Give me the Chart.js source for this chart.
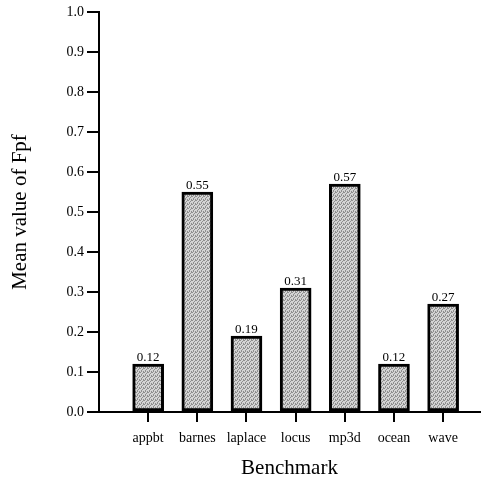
<!DOCTYPE html>
<html lang="en">

<head>
    <meta charset="UTF-8">
    <title>Mean value of Fpf</title>
    <style>
        body {
            margin: 0;
            padding: 0;
            background: #fff;
        }

        canvas {
            display: block;
        }
    </style>
</head>

<body>
    <canvas id="fpfChart" width="481" height="481"></canvas>

    <script src="https://cdn.jsdelivr.net/npm/chart.js"></script>
    <script>
        // Data
        const benchmarks = ['appbt', 'barnes', 'laplace', 'locus', 'mp3d', 'ocean', 'wave'];
        const fpfValues = [0.12, 0.55, 0.19, 0.31, 0.57, 0.12, 0.27];
        const yTicks = [0.0, 0.1, 0.2, 0.3, 0.4, 0.5, 0.6, 0.7, 0.8, 0.9, 1.0];

        const serif = '"Liberation Serif", "DejaVu Serif", serif';

        // Stippled grey fill like the scanned bars
        function makePattern() {
            const c = document.createElement('canvas');
            c.width = 4;
            c.height = 4;
            const g = c.getContext('2d');
            g.fillStyle = '#d4d4d4';
            g.fillRect(0, 0, 4, 4);
            g.fillStyle = '#8e8e8e';
            [[0, 0], [2, 1], [1, 2], [3, 3], [3, 0], [1, 3]].forEach(p => g.fillRect(p[0], p[1], 1, 1));
            return g.createPattern(c, 'repeat');
        }

        // Value printed above each bar
        const valueLabels = {
            id: 'valueLabels',
            afterDatasetsDraw(chart) {
                const ctx = chart.ctx;
                const meta = chart.getDatasetMeta(0);
                ctx.save();
                ctx.font = '13px ' + serif;
                ctx.fillStyle = '#000';
                ctx.textAlign = 'center';
                ctx.textBaseline = 'alphabetic';
                meta.data.forEach((bar, i) => {
                    ctx.fillText(fpfValues[i].toFixed(2), bar.x, bar.y - 3);
                });
                ctx.restore();
            }
        };

        const ctx = document.getElementById('fpfChart').getContext('2d');
        const fpfChart = new Chart(ctx, {
            type: 'bar',
            data: {
                datasets: [{
                    label: 'Fpf',
                    data: benchmarks.map((b, i) => ({ x: i, y: fpfValues[i] })),
                    backgroundColor: makePattern(),
                    borderColor: '#000',
                    borderWidth: 3,
                    borderSkipped: false,
                    barThickness: 31
                }]
            },
            options: {
                responsive: false,
                animation: false,
                layout: {
                    padding: { top: 12, right: 1, left: 0, bottom: 0 }
                },
                plugins: {
                    legend: { display: false },
                    tooltip: { enabled: false }
                },
                scales: {
                    x: {
                        type: 'linear',
                        min: -1,
                        max: 6.75,
                        offset: false,
                        afterBuildTicks: (scale) => {
                            scale.ticks = benchmarks.map((b, i) => ({ value: i }));
                        },
                        afterFit: (scale) => { scale.height = 69; },
                        grid: {
                            offset: false,
                            drawOnChartArea: false,
                            drawTicks: true,
                            tickLength: 10,
                            color: '#000',
                            lineWidth: 2
                        },
                        border: { color: '#000', width: 2 },
                        ticks: {
                            padding: 8,
                            color: '#000',
                            font: { family: serif, size: 14 },
                            callback: (v) => benchmarks[v]
                        },
                        title: {
                            display: true,
                            text: 'Benchmark',
                            color: '#000',
                            font: { family: serif, size: 21 },
                            padding: { top: 0, bottom: 0 }
                        }
                    },
                    y: {
                        min: 0,
                        max: 1,
                        afterBuildTicks: (scale) => {
                            scale.ticks = yTicks.map(v => ({ value: v }));
                        },
                        afterFit: (scale) => { scale.width = 99; },
                        grid: {
                            drawOnChartArea: false,
                            drawTicks: true,
                            tickLength: 12,
                            color: '#000',
                            lineWidth: 2
                        },
                        border: { color: '#000', width: 2 },
                        ticks: {
                            padding: 3,
                            color: '#000',
                            font: { family: serif, size: 14 },
                            callback: (v) => v.toFixed(1)
                        },
                        title: {
                            display: true,
                            text: 'Mean value of Fpf',
                            color: '#000',
                            font: { family: serif, size: 21 },
                            padding: { top: 8, bottom: 0 }
                        }
                    }
                }
            },
            plugins: [valueLabels]
        });
    </script>
</body>

</html>
